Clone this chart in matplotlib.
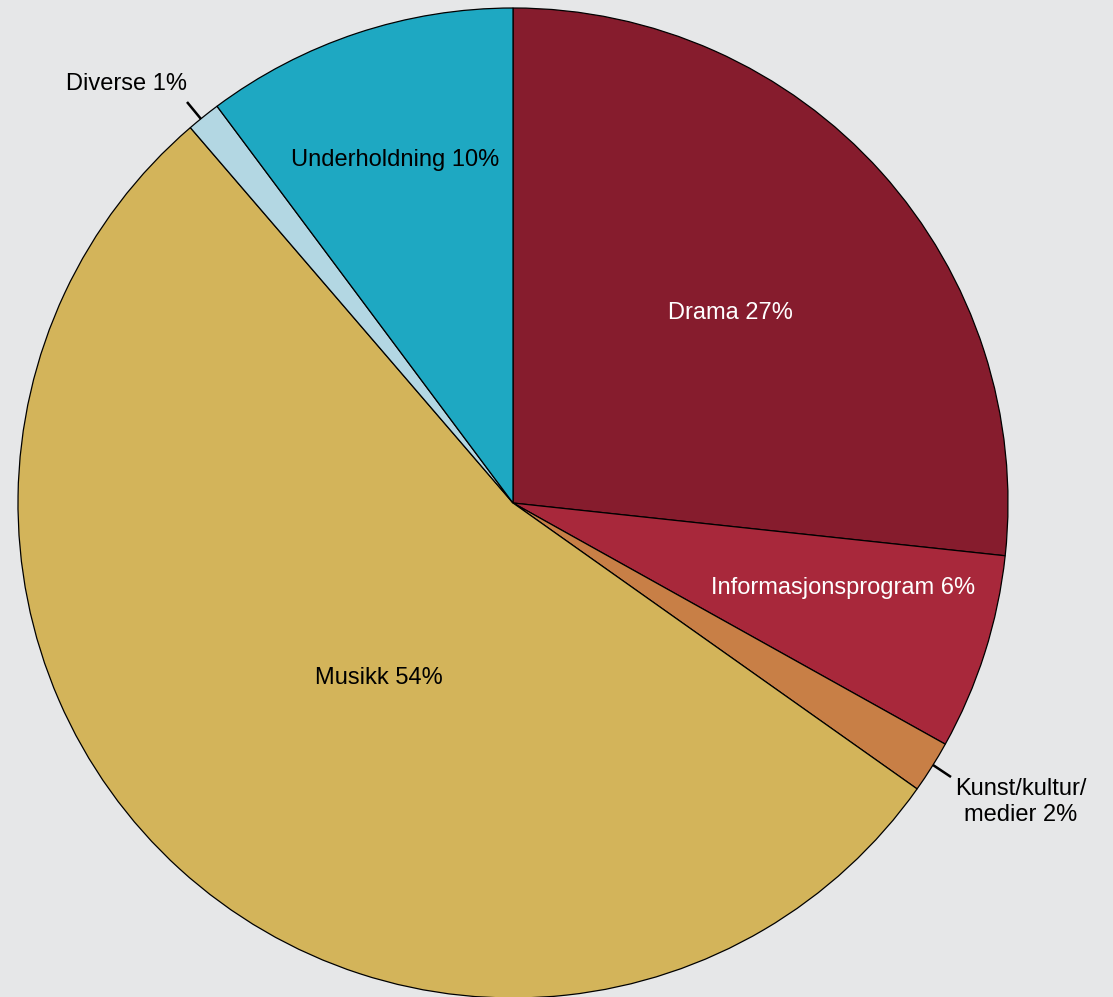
import matplotlib
matplotlib.use("Agg")
import matplotlib.pyplot as plt

# share of programming by genre (%), clockwise from 12 o'clock
genres = ["Drama", "Informasjonsprogram", "Kunst/kultur/\nmedier", "Musikk", "Diverse", "Underholdning"]
shares = [26.7, 6.4, 1.7, 53.9, 1.1, 10.2]
colors = ["#861C2D", "#A8283B", "#C87F46", "#D3B45A", "#B3D7E3", "#1EA8C2"]
text_colors = ["white", "white", "black", "black", "black", "black"]

bg = "#E6E7E8"
plt.rcParams['font.family'] = ['Liberation Sans', 'DejaVu Sans']

W, H = 1113, 997
fig = plt.figure(figsize=(W / 100, H / 100), dpi=100, facecolor=bg)
ax = fig.add_axes([0, 0, 1, 1])
ax.set_facecolor(bg)

cx, cy, r = 513, H - 503, 495
wedges, _ = ax.pie(shares, colors=colors, startangle=90, counterclock=False,
                   center=(cx, cy), radius=r, frame=True,
                   wedgeprops=dict(edgecolor="black", linewidth=0.9))
ax.set_xlim(0, W)
ax.set_ylim(0, H)
ax.axis("off")

labels = [f"{g} {round(s)}%" for g, s in zip(genres, shares)]

# labels inside slices (pixel positions, from top)
inside = {0: (730, 313), 1: (843, 588), 3: (379, 678), 5: (395, 160)}
for i, (x, y) in inside.items():
    ax.text(x, H - y, labels[i], color=text_colors[i], fontsize=17,
            ha="center", va="center")

# small slices with leader lines
ax.plot([187, 201], [H - 102, H - 119], color="black", lw=1.8, solid_capstyle="butt")
ax.text(187, H - 84, labels[4], fontsize=17, ha="right", va="center")

ax.plot([933, 951], [H - 765, H - 777], color="black", lw=1.8, solid_capstyle="butt")
ax.text(1021, H - 802, labels[2], fontsize=17, ha="center", va="center",
        linespacing=1.2)

fig.savefig("out.png", dpi=100, facecolor=bg)
